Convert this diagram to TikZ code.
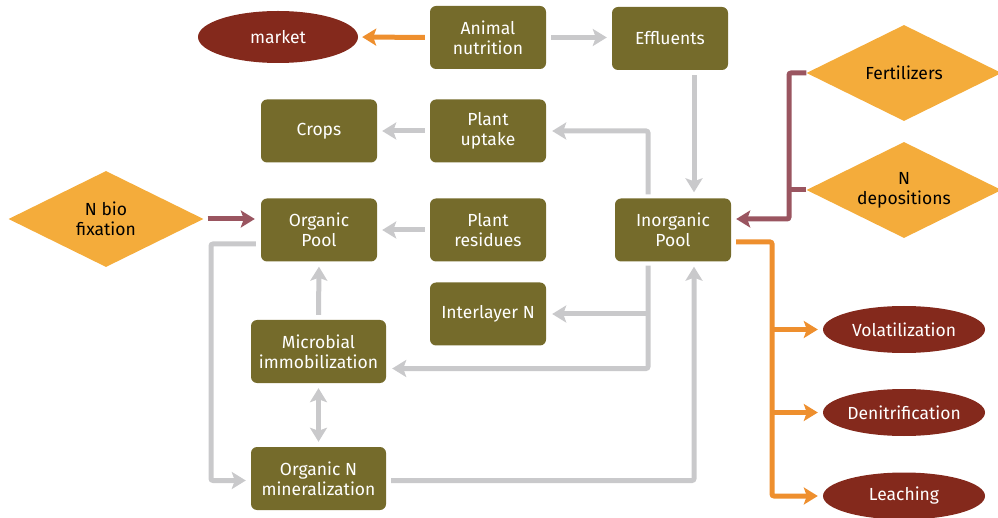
\documentclass[tikz,border=0pt]{standalone}
\usepackage{fontspec}
\setmainfont{Fira Sans}
\usetikzlibrary{arrows.meta,shapes.geometric,calc}
\definecolor{olivebox}{HTML}{756B2B}
\definecolor{darkred}{HTML}{84291C}
\definecolor{diam}{HTML}{F4AC3B}
\definecolor{greyline}{HTML}{C9C9CB}
\definecolor{orangeline}{HTML}{EE8F2E}
\definecolor{maroonline}{HTML}{9A5560}
\tikzset{
  txt/.style={font=\fontsize{17.5}{20}\selectfont},
  box/.style={draw=none, fill=olivebox, rounded corners=6pt, minimum width=116pt, minimum height=63pt, text=white, align=center, inner sep=2pt, txt},
  widebox/.style={box, minimum width=135pt},
  outell/.style={ellipse, fill=darkred, text=white, minimum width=162pt, minimum height=47pt, inner sep=0pt, txt},
  indiam/.style={diamond, fill=diam, text=black, aspect=2.05, minimum width=195pt, minimum height=96pt, inner sep=0pt, align=center, txt},
  tip/.style={-{Stealth[length=14pt,width=17pt,inset=3pt]}},
  garrow/.style={draw=greyline, line width=5pt, tip, rounded corners=2pt},
  oarrow/.style={draw=orangeline, line width=5pt, tip, rounded corners=2pt},
  marrow/.style={draw=maroonline, line width=5pt, tip, rounded corners=2pt},
  mline/.style={draw=maroonline, line width=5pt},
}
\begin{document}
\begin{tikzpicture}[x=1pt,y=-1pt]
\useasboundingbox (0,0) rectangle (998,518);
% nodes
\node[box] (anim) at (488,37.5) {Animal\\nutrition};
\node[box] (eff) at (670,38.5) {Effluents};
\node[outell, minimum width=160pt, minimum height=52pt] (market) at (278,37) {market};
\node[box] (crops) at (319,131) {Crops};
\node[box] (upt) at (488,131) {Plant\\uptake};
\node[box] (opool) at (319,230) {Organic\\Pool};
\node[box] (res) at (488,230) {Plant\\residues};
\node[box] (inorg) at (673,230) {Inorganic\\Pool};
\node[box] (inter) at (488,314) {Interlayer N};
\node[widebox] (micro) at (318.5,351.5) {Microbial\\immobilization};
\node[widebox] (minz) at (318.5,478.5) {Organic N\\mineralization};
\node[indiam] (fert) at (904,73) {Fertilizers};
\node[indiam] (ndep) at (904,190) {N\\depositions};
\node[indiam] (nbio) at (106,219) {N bio\\fixation};
\node[outell] (vol) at (904,329.5) {Volatilization};
\node[outell] (den) at (904,412.5) {Denitrification};
\node[outell] (leach) at (904,496) {Leaching};
% helper columns
\coordinate (colA) at (694,0);
\coordinate (colB) at (648,0);
\coordinate (colL) at (211,0);
\coordinate (colR) at (772,0);
\coordinate (colM) at (789,0);
\coordinate (inE) at ([yshift=11pt]inorg.east);
\coordinate (inS) at ([yshift=-12pt]inorg.east);
\coordinate (microE) at ([yshift=-17pt]micro.east);
\coordinate (opW) at ([yshift=-14pt]opool.west);
\coordinate (minzE) at ([yshift=-2pt]minz.east);
\coordinate (minzW) at ([yshift=-2pt]minz.west);
% connectors
\draw[oarrow, shorten <=5pt, shorten >=4pt] (anim.west) -- (market.east);
\draw[garrow, shorten <=5pt, shorten >=5pt] (anim.east) -- (anim.east -| eff.west);
\draw[garrow, shorten <=5pt, shorten >=6pt] (eff.south -| colA) -- (inorg.north -| colA);
\draw[garrow, shorten <=4pt, shorten >=6pt] (inorg.north -| colB) |- (upt.east);
\draw[garrow, shorten <=5pt, shorten >=5pt] (upt.west) -- (crops.east);
\draw[garrow, shorten <=5pt, shorten >=5pt] (res.west) -- (opool.east);
\draw[garrow, shorten <=4pt, shorten >=6pt] (inorg.south -| colB) |- (microE);
\draw[garrow, shorten >=6pt] (colB |- inter.east) -- (inter.east);
\draw[garrow, shorten <=5pt, shorten >=5pt] (minzE) -| (inorg.south -| colA);
\draw[garrow, shorten <=5pt, shorten >=5pt] (opW) -| (colL |- minzW) -- (minzW);
\draw[garrow, shorten <=5pt, shorten >=5pt] (micro.north) -- (opool.south);
\draw[garrow, {Stealth[length=14pt,width=17pt,inset=3pt]}-{Stealth[length=14pt,width=17pt,inset=3pt]}, shorten <=5pt, shorten >=5pt] (micro.south) -- (minz.north);
\draw[marrow, shorten <=4pt, shorten >=6pt] (nbio.east) -- (nbio.east -| opool.west);
\draw[marrow, shorten <=0pt, shorten >=5pt] (fert.west) -| (colM |- inE) -- (inE);
\draw[mline] (ndep.west) -- (colM |- ndep.west);
\draw[oarrow, shorten <=5pt, shorten >=5pt] (inS) -| (colR |- leach.west) -- (leach.west);
\draw[oarrow, shorten >=5pt] (colR |- vol.west) -- (vol.west);
\draw[oarrow, shorten >=5pt] (colR |- den.west) -- (den.west);
\end{tikzpicture}
\end{document}
